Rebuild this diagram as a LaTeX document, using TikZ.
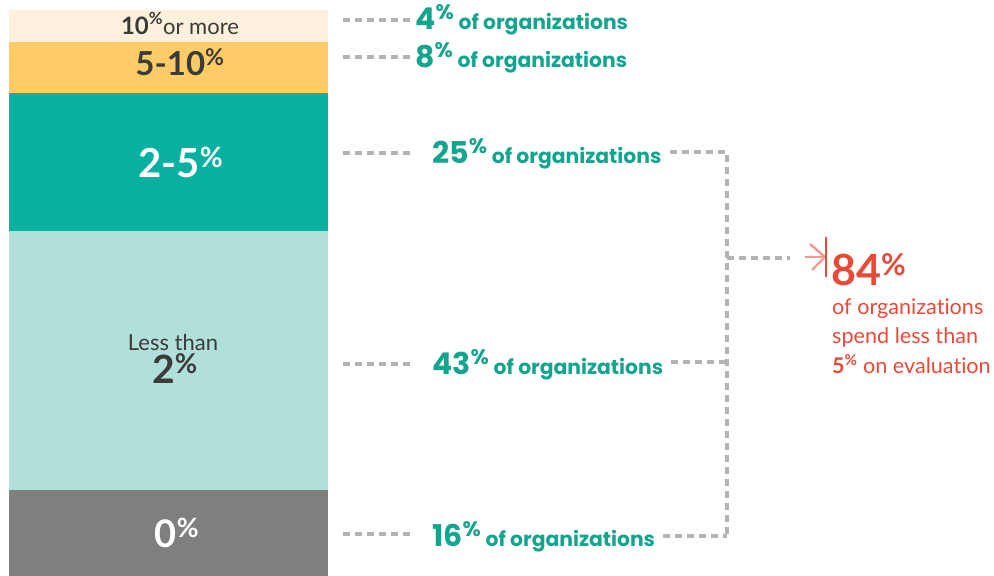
\documentclass[tikz,border=0pt]{standalone}
\usepackage{fontspec}
\setmainfont{Lato}[Ligatures=NoCommon]
\newfontfamily\pop{Poppins}
\definecolor{cream}{HTML}{FDF0DC}
\definecolor{yel}{HTML}{FECC66}
\definecolor{tealbar}{HTML}{06B1A0}
\definecolor{ltteal}{HTML}{B1DFD9}
\definecolor{graybar}{HTML}{7F7F7E}
\definecolor{darktxt}{HTML}{3B3B39}
\definecolor{tealtxt}{HTML}{15A48E}
\definecolor{redtxt}{HTML}{E84A3A}
\definecolor{pinkarr}{HTML}{F29A90}
\definecolor{dashgray}{HTML}{B3B3B3}
\newcommand\pcs{\textsuperscript{\%}}
\tikzset{
  band/.style={anchor=north west, minimum width=319pt, inner sep=0pt, outer sep=0pt},
  dots/.style={draw=dashgray, line width=4.5pt, dash pattern=on 7pt off 5pt},
  orgtxt/.style={anchor=base west, inner sep=0pt, text=tealtxt, font=\pop\bfseries\fontsize{20.3}{22}\selectfont},
  bartxt/.style={inner sep=0pt, align=center, font=\bfseries},
  redline/.style={anchor=base west, inner sep=0pt, text=redtxt, font=\fontsize{21.6}{24}\selectfont},
}
\newcommand\bignum[1]{{\fontsize{30}{32}\selectfont #1\pcs}}
\begin{document}
\begin{tikzpicture}[x=1pt,y=-1pt]
\useasboundingbox (0,0) rectangle (994,576);
% bands
\node[band, fill=cream, minimum height=32pt] (b10) at (9,10) {};
\node[band, fill=yel, minimum height=51pt] (b5) at (9,42) {};
\node[band, fill=tealbar, minimum height=138pt] (b2) at (9,93) {};
\node[band, fill=ltteal, minimum height=259pt] (bl) at (9,231) {};
\node[band, fill=graybar, minimum height=86pt] (b0) at (9,490) {};
% band labels
\node[bartxt, anchor=base, text=darktxt] (l10) at (180,34) {\fontsize{24}{26}\selectfont 10\pcs{\fontsize{22}{24}\selectfont\mdseries or more}};
\node[bartxt, anchor=base, text=darktxt] (l5) at (180,75) {\fontsize{33}{34}\selectfont 5-10\pcs};
\node[bartxt, anchor=base, text=white] (l2) at (181,177) {\fontsize{40}{42}\selectfont 2-5\pcs};
\node[inner sep=0pt, anchor=base, text=darktxt, font=\fontsize{22}{24}\selectfont] (lless) at (173,350) {Less than};
\node[bartxt, anchor=base, text=darktxt] (lt2) at (175,383) {\fontsize{39}{40}\selectfont 2\pcs};
\node[bartxt, anchor=base, text=white] (l0) at (177,547) {\fontsize{38}{40}\selectfont 0\pcs};
% teal labels
\node[orgtxt] (t4) at (415,29) {\bignum{4} of organizations};
\node[orgtxt] (t8) at (415,67) {\bignum{8} of organizations};
\node[orgtxt] (t25) at (432,163) {\bignum{25} of organizations};
\node[orgtxt] (t43) at (432,374) {\bignum{43} of organizations};
\node[orgtxt] (t16) at (432,546) {\bignum{16} of organizations};
% connector coordinates
\coordinate (s4) at (343,20);
\coordinate (e4) at (412,20);
\coordinate (s8) at (343,57);
\coordinate (e8) at (412,57);
\coordinate (s25) at (343,153);
\coordinate (e25) at (412,153);
\coordinate (s43) at (343,364);
\coordinate (e43) at (412,364);
\coordinate (s16) at (343,534);
\coordinate (e16) at (412,534);
\coordinate (j25) at (727,152);
\coordinate (j43) at (727,362);
\coordinate (j16) at (727,536);
\coordinate (jm) at (727,258);
\coordinate (am) at (790,258);
% left connectors
\draw[dots] (s4) -- (e4);
\draw[dots] (s8) -- (e8);
\draw[dots] (s25) -- (e25);
\draw[dots] (s43) -- (e43);
\draw[dots] (s16) -- (e16);
% right connectors
\draw[dots] (t25.east |- j25) ++(8,0) -- (j25) -- (j16);
\draw[dots] (t16.east |- j16) ++(8,0) -- (j16);
\draw[dots] (t43.east |- j43) ++(8,0) -- (j43);
\draw[dots] (jm) -- (am);
% arrow icon
\coordinate (ai) at (825,257);
\draw[pinkarr, line width=2.4pt] (810,244) -- (ai) -- (812,270);
\draw[pinkarr, line width=2.4pt] (805,257) -- (ai);
\draw[redtxt, line width=2pt] (826,237) -- (826,277);
% result text
\node[anchor=base west, inner sep=0pt, text=redtxt, font=\bfseries\fontsize{43}{46}\selectfont] (r84) at (831,285) {84\pcs};
\node[redline] (rt1) at (832,314) {of organizations};
\node[redline] (rt2) at (832,343) {spend less than};
\node[redline] (rt3) at (832,373) {{\bfseries 5\pcs} on evaluation};
\end{tikzpicture}
\end{document}
